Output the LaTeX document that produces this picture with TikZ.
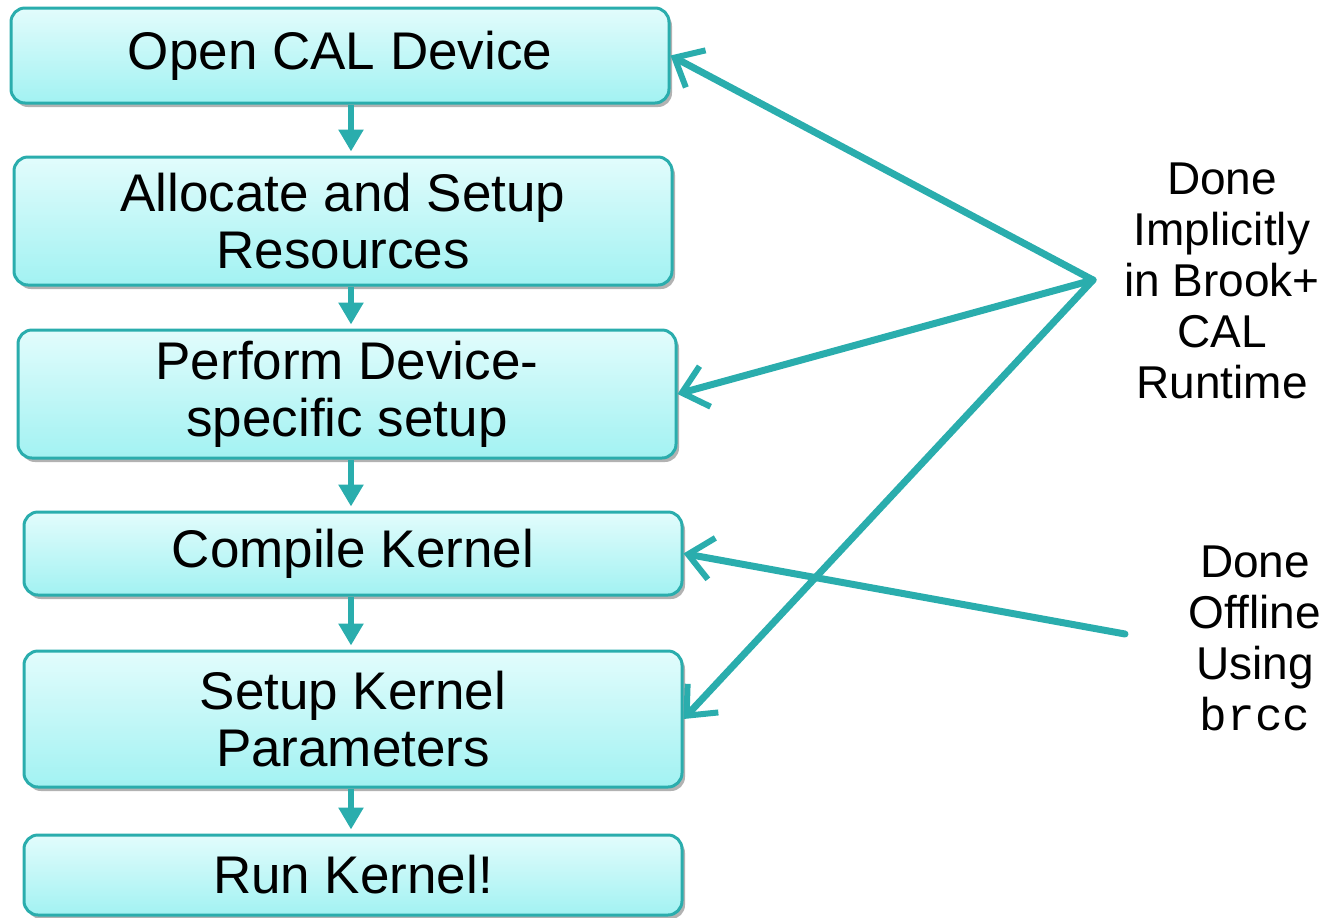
\documentclass[tikz,border=0pt]{standalone}
\usepackage{fontspec}
\setmainfont{Liberation Sans}
\setmonofont{Liberation Mono}
\usetikzlibrary{arrows.meta,shadows}
\definecolor{calteal}{HTML}{2AADAD}
\definecolor{caltop}{HTML}{E2FCFC}
\definecolor{calbot}{HTML}{A2F2F2}

\tikzset{
  calstep/.style={draw=calteal, line width=1.5pt, rounded corners=7pt,
    top color=caltop, bottom color=calbot, minimum width=329pt, align=center,
    font=\fontsize{26.5}{28.5}\selectfont,
    drop shadow={shadow xshift=1.5pt, shadow yshift=-2pt, opacity=0.3, fill=black}},
  flow/.style={draw=calteal, line width=3pt, shorten >=2pt,
    -{Triangle[length=11pt,width=12pt]}},
  hint/.style={draw=calteal, line width=3.5pt, line cap=round,
    -{Straight Barb[length=12pt,width=21pt,line width=3pt]}},
  note/.style={align=center, font=\fontsize{23}{25.5}\selectfont}
}

\begin{document}
\begin{tikzpicture}[x=0.5pt,y=-0.5pt]
  \useasboundingbox (0,0) rectangle (1334,917);

  %Define nodes
  \node[calstep, minimum height=47.5pt] (open)    at (340,55.5)  {Open CAL Device};
  \node[calstep, minimum height=64pt]   (alloc)   at (343,221)   {Allocate and Setup\\Resources};
  \node[calstep, minimum height=64pt]   (perform) at (347,394)   {Perform Device-\\specific setup};
  \node[calstep, minimum height=41.5pt] (compile) at (353,553.5) {Compile Kernel};
  \node[calstep, minimum height=68pt]   (setup)   at (353,719)   {Setup Kernel\\Parameters};
  \node[calstep, minimum height=40pt]   (run)     at (353,875)   {Run Kernel!};

  \node[note] (impl) at (1222,281) {Done\\Implicitly\\in Brook+\\CAL\\Runtime};
  \node[note] (offl) at (1255,638) {Done\\Offline\\Using\\\texttt{brcc}};

  \coordinate (spine) at (351,0);
  \coordinate (hub)   at (1093,280);
  \coordinate (brcc)  at (1125,634);

  % Connect the nodes
  \draw[flow] (open.south -| spine)    -- (alloc.north -| spine);
  \draw[flow] (alloc.south -| spine)   -- (perform.north -| spine);
  \draw[flow] (perform.south -| spine) -- (compile.north -| spine);
  \draw[flow] (compile.south -| spine) -- (setup.north -| spine);
  \draw[flow] (setup.south -| spine)   -- (run.north -| spine);

  \draw[hint] (hub)  -- (open.east);
  \draw[hint] (hub)  -- (perform.east);
  \draw[hint] (hub)  -- (setup.east);
  \draw[hint] (brcc) -- (compile.east);

\end{tikzpicture}
\end{document}
